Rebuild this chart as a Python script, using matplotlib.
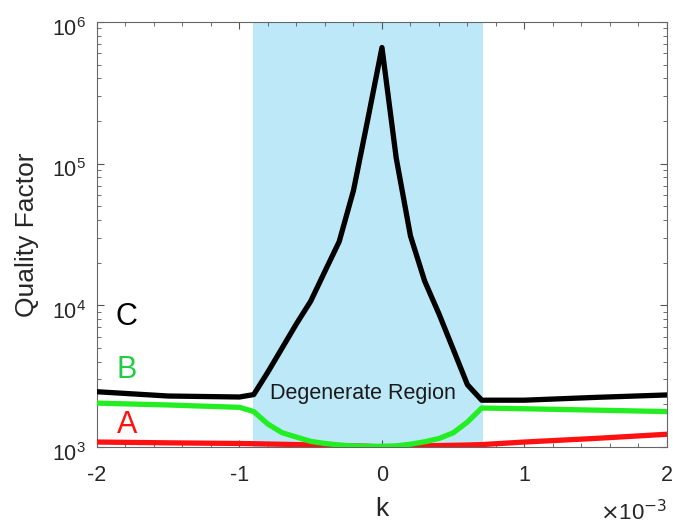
import matplotlib
matplotlib.use("Agg")
import matplotlib.pyplot as plt
from matplotlib.ticker import FixedLocator, LogLocator, NullFormatter
from matplotlib.transforms import ScaledTranslation

plt.rcParams['font.family'] = ['Liberation Sans', 'DejaVu Sans']

# k values in units of 1e-3
k = [-2.0, -1.5, -1.0, -0.9, -0.8, -0.7, -0.6, -0.5, -0.4, -0.3, -0.2, -0.1,
     0.0, 0.1, 0.2, 0.3, 0.4, 0.5, 0.6, 0.7, 1.0, 1.5, 2.0]

q_C = [2455, 2290, 2254, 2344, 3390, 5010, 7410, 10700, 17400, 28200, 64600, 204000,
       660000, 109600, 30900, 14800, 8710, 4900, 2750, 2140, 2140, 2240, 2330]
q_B = [2040, 1980, 1905, 1780, 1450, 1260, 1175, 1096, 1059, 1033, 1018, 1012,
       1012, 1018, 1047, 1089, 1148, 1259, 1500, 1884, 1862, 1820, 1778]
q_A = [1084, 1070, 1059, 1055, 1050, 1045, 1040, 1035, 1030, 1024, 1018, 1012,
       1000, 1008, 1013, 1018, 1024, 1028, 1033, 1040, 1084, 1150, 1230]

region = [-0.905, 0.71]
series_labels = ['C', 'B', 'A']
label_y = [8260, 3490, 1430]

fig = plt.figure(figsize=(6.73, 5.27), dpi=100)
ax = fig.add_axes([0.1441, 0.1518, 0.8469, 0.8065])

ax.axvspan(region[0] * 1e-3, region[1] * 1e-3, color='#bde8f8', lw=0, zorder=0)

kx = [v * 1e-3 for v in k]
ax.plot(kx, q_A, color='#ff1111', lw=3.8, zorder=3, solid_joinstyle='round')
ax.plot(kx, q_B, color='#22ee22', lw=3.8, zorder=4, solid_joinstyle='round')
ax.plot(kx, q_C, color='black', lw=3.8, zorder=5, solid_joinstyle='round')

ax.set_yscale('log')
ax.set_xlim(-2e-3, 2e-3)
ax.set_ylim(1e3, 1e6)

xt = [-2, -1, 0, 1, 2]
ax.xaxis.set_major_locator(FixedLocator([v * 1e-3 for v in xt]))
ax.set_xticklabels([str(v) for v in xt])
ax.xaxis.set_minor_locator(FixedLocator([i * 0.2e-3 for i in range(-10, 11)]))
ax.yaxis.set_major_locator(LogLocator(base=10, numticks=10))
ax.yaxis.set_minor_locator(LogLocator(base=10, subs=range(2, 10), numticks=20))
ax.yaxis.set_minor_formatter(NullFormatter())

tc = '#262626'
ax.tick_params(which='both', direction='in', top=True, right=True, colors='#555555',
               labelcolor=tc, labelsize=15.5)
ax.tick_params(axis='x', which='both', pad=13)
ax.tick_params(axis='y', which='both', pad=8)
ax.tick_params(which='major', length=5, width=0.8)
ax.tick_params(which='minor', length=3, width=0.6)
for s in ax.spines.values():
    s.set_color('#666666')
    s.set_linewidth(0.8)

fig.canvas.draw()
shift = ScaledTranslation(0, -3.5 / 72, fig.dpi_scale_trans)
for lbl in ax.get_yticklabels():
    lbl.set_transform(lbl.get_transform() + shift)

ax.set_xlabel('k', fontsize=19, color=tc, labelpad=8)
ax.set_ylabel('Quality Factor', fontsize=19, color=tc, labelpad=9)

ax.text(1.0, -0.125, r'$\times$10$^{-3}$', transform=ax.transAxes, ha='right', va='top',
        fontsize=16, color=tc)

ax.text(-0.13e-3, 2405, 'Degenerate Region', fontsize=15.5, color='#1a1a1a',
        ha='center', va='center', zorder=6)

label_colors = ['black', '#22cc44', '#ff1111']
for lab, c, yv in zip(series_labels, label_colors, label_y):
    ax.text(-1.79e-3, yv, lab, fontsize=22, color=c, ha='center', va='center', zorder=6)

fig.savefig('out.png', dpi=100)
